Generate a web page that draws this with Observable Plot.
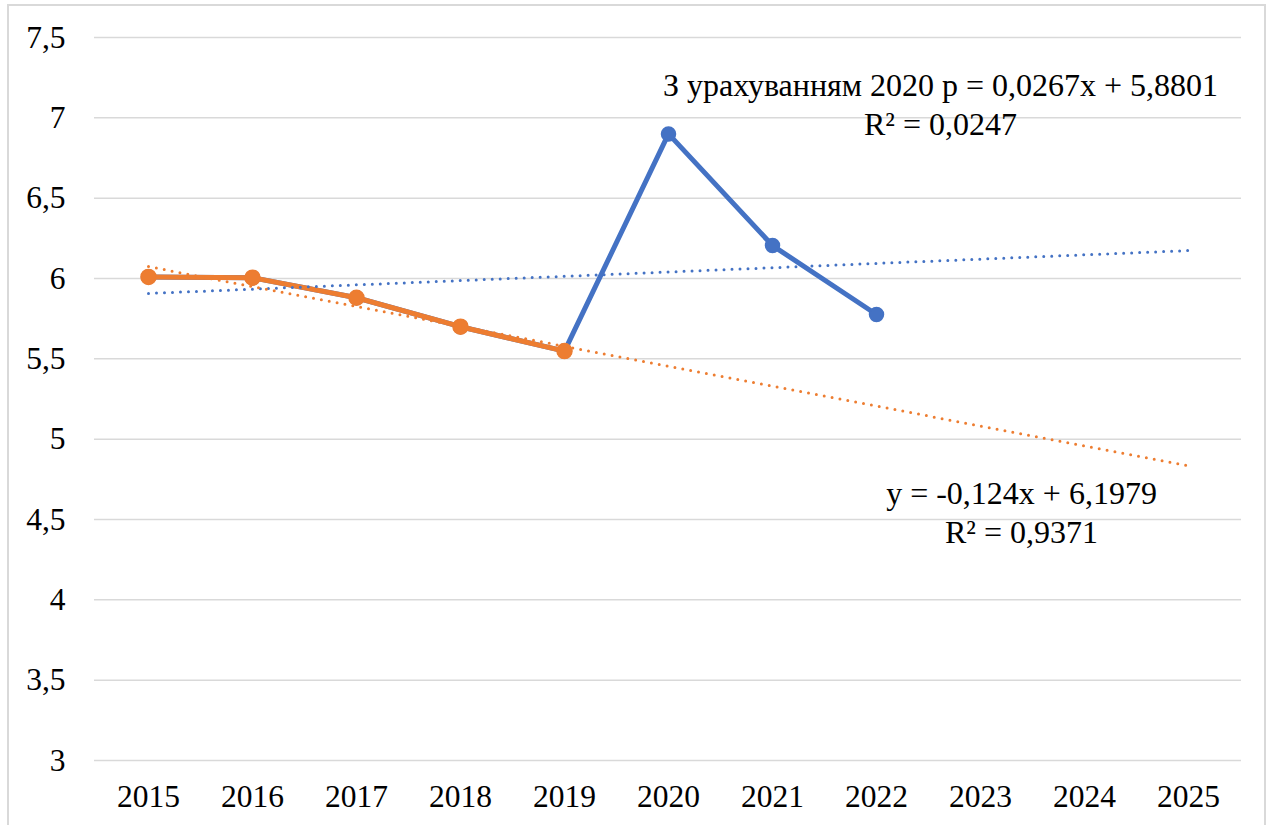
<!DOCTYPE html>
<html>
<head>
<meta charset="utf-8">
<script src="https://cdn.jsdelivr.net/npm/d3@7"></script>
<script src="https://cdn.jsdelivr.net/npm/@observablehq/plot@0.6"></script>
<style>
  html, body { margin: 0; padding: 0; background: #fff; overflow: hidden; }
  #wrap { position: relative; width: 1270px; height: 825px; }
  #border { position: absolute; left: 7px; top: 4px; width: 1259px; height: 850px; border: 2px solid #d9d9d9; box-sizing: border-box; pointer-events: none; }
  #chart { position: absolute; left: 0; top: 0; }
  #chart svg, #chart svg g, #chart svg text { font-family: "Liberation Serif", "DejaVu Serif", serif !important; }
</style>
</head>
<body>
<div id="wrap"><div id="chart"></div><div id="border"></div></div>
<script>
// Categories
const years = ["2015","2016","2017","2018","2019","2020","2021","2022","2023","2024","2025"];
// Series "with 2020" (blue)
const withYears = ["2015","2016","2017","2018","2019","2020","2021","2022"];
const withValues = [6.01, 6.005, 5.88, 5.70, 5.548, 6.90, 6.205, 5.776];
// Series "without 2020" (orange)
const withoutYears = ["2015","2016","2017","2018","2019"];
const withoutValues = [6.01, 6.005, 5.88, 5.70, 5.548];
// Trend lines (end points)
const trendYears = ["2015","2025"];
const trendWithValues = [5.907, 6.174];
const trendWithoutValues = [6.074, 4.834];
// Y ticks
const yTicks = [3, 3.5, 4, 4.5, 5, 5.5, 6, 6.5, 7, 7.5];
// Annotations
const annotText = ["З урахуванням 2020 р = 0,0267x + 5,8801\nR² = 0,0247", "y = -0,124x + 6,1979\nR² = 0,9371"];
const annotYear = ["2022", "2023"];
const annotValue = [7.09, 4.555];

const blue = "#4472C4";
const orange = "#ED7D31";
const serif = "Liberation Serif, DejaVu Serif, serif";

const toRows = (xs, ys) => xs.map((x, i) => ({x, y: ys[i]}));
const withRows = toRows(withYears, withValues);
const withoutRows = toRows(withoutYears, withoutValues);
const trendWith = toRows(trendYears, trendWithValues);
const trendWithout = toRows(trendYears, trendWithoutValues);
const annots = annotText.map((t, i) => ({t, x: annotYear[i], y: annotValue[i]}));

const chart = Plot.plot({
  width: 1270,
  height: 825,
  marginLeft: 94,
  marginRight: 29,
  marginTop: 37,
  marginBottom: 65,
  style: {fontSize: "31px", color: "#000", background: "transparent"},
  x: {type: "point", domain: years, padding: 0.5, label: null},
  y: {domain: [3, 7.5], label: null},
  marks: [
    Plot.gridY(yTicks, {stroke: "#d9d9d9", strokeOpacity: 1, strokeWidth: 1.5}),
    Plot.axisY(yTicks, {tickSize: 0, tickPadding: 29, tickFormat: d => String(d).replace(".", ","), fontSize: 31.5, fontFamily: serif, fontVariant: "normal", label: null}),
    Plot.axisX({tickSize: 0, tickPadding: 24, fontSize: 31.5, fontFamily: serif, fontVariant: "normal", label: null}),
    Plot.line(withRows, {x: "x", y: "y", stroke: blue, strokeWidth: 5}),
    Plot.dot(withRows, {x: "x", y: "y", r: 7, fill: blue, stroke: blue}),
    Plot.line(withoutRows, {x: "x", y: "y", stroke: orange, strokeWidth: 5}),
    Plot.dot(withoutRows, {x: "x", y: "y", r: 7.5, fill: orange, stroke: orange}),
    Plot.line(trendWith, {x: "x", y: "y", stroke: blue, strokeWidth: 3, strokeDasharray: "0,8", strokeLinecap: "round"}),
    Plot.line(trendWithout, {x: "x", y: "y", stroke: orange, strokeWidth: 3, strokeDasharray: "0,8", strokeLinecap: "round"}),
    Plot.text([annots[0]], {x: "x", y: "y", text: "t", dx: 64, fontSize: 32, fontFamily: serif, lineHeight: 1.2, fill: "#000"}),
    Plot.text([annots[1]], {x: "x", y: "y", text: "t", dx: 41, fontSize: 32, fontFamily: serif, lineHeight: 1.24, fill: "#000"}),
  ]
});
document.getElementById("chart").appendChild(chart);
</script>
</body>
</html>
